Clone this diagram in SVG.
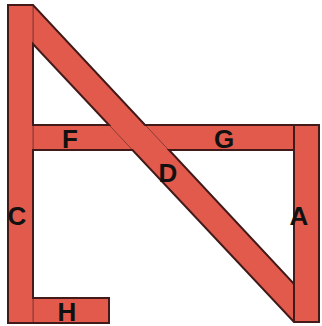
<svg xmlns="http://www.w3.org/2000/svg" width="322" height="326" viewBox="0 0 322 326">
<style>
.m{fill:#e25a4c;stroke:#8a3a34;stroke-width:1}
.o{fill:none;stroke:#431a1a;stroke-width:2}
text{font-family:"Liberation Sans",Arial,sans-serif;font-weight:bold;font-size:26px;fill:#111;text-anchor:middle}
</style>
<rect width="322" height="326" fill="#fff"/>
<g id="G"><rect class="m" x="33" y="125" width="261" height="25"/></g>
<g id="H"><rect class="m" x="33" y="298" width="76" height="25"/></g>
<g id="D"><polygon class="m" points="33,5 294,284 294,322 33,44"/></g>
<g id="C"><rect class="m" x="8" y="5" width="25" height="318"/></g>
<g id="A"><rect class="m" x="294" y="125" width="25" height="197"/></g>
<g id="connectors"><path class="o" d="M8,5H33L145,125H319V322H294L132.500,150H33V298H109V323H8ZM33,44V125H109ZM294,150H169L294,284ZM294,125V150M294,284V322"/></g>
<g id="labels"><text x="70" y="148">F</text><text x="224" y="148">G</text><text x="67" y="321">H</text><text x="168" y="182">D</text><text x="17" y="225">C</text><text x="299" y="225">A</text></g>
</svg>
